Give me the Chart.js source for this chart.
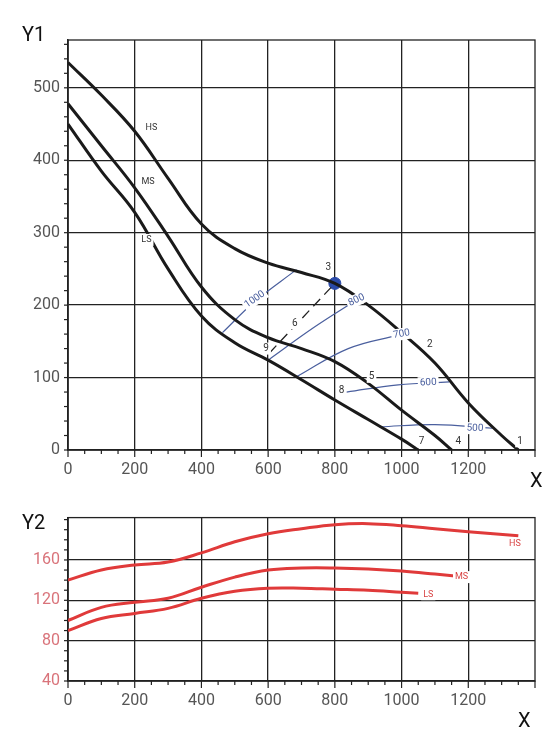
<!DOCTYPE html>
<html><head><meta charset="utf-8">
<script src="https://cdn.jsdelivr.net/npm/chart.js@4"></script>
<style>body{margin:0;background:#fff;width:551px;height:750px;position:relative;overflow:hidden;font-family:Roboto,sans-serif}
canvas{position:absolute;left:0}
.t{position:absolute;font-family:Roboto,sans-serif;color:#111}
</style></head><body>
<canvas id="c1" width="551" height="490" style="top:0"></canvas>
<canvas id="c2" width="551" height="250" style="top:500px"></canvas>
<div class="t" style="left:22px;top:22px;font-size:20px">Y1</div>
<div class="t" style="left:530px;top:468px;font-size:20px">X</div>
<div class="t" style="left:22px;top:510px;font-size:20px">Y2</div>
<div class="t" style="left:518px;top:708px;font-size:20px">X</div>
<script>
const xTicks=[0,200,400,600,800,1000,1200];
const y1Ticks=[0,100,200,300,400,500];
const y2Ticks=[40,80,120,160];
const hsTop=[[0,535],[100,490],[200,440],[300,375],[400,312],[500,278],[600,258],[700,245],[800,230],[900,200],[1000,162],[1100,120],[1200,65],[1300,20],[1350,0]];
const msTop=[[0,478],[100,420],[200,362],[300,295],[400,225],[500,180],[600,155],[700,140],[800,122],[900,92],[1000,55],[1100,20],[1150,0]];
const lsTop=[[0,450],[100,385],[200,328],[300,250],[400,185],[500,148],[600,124],[700,97],[800,69],[900,42],[1000,15],[1050,0]];
const c1000=[[463,162],[560,205],[685,249]];
const c800=[[600,124],[740,170],[865,207]];
const c700=[[685,101],[840,140],[993,159]];
const c600=[[835,80],[990,90],[1143,94]];
const c500=[[934,32],[1100,35],[1272,30]];
const dashLine=[[604,134],[800,230]];
const point3=[[800,230]];
const contourLabels=[["1000",560,208,-35],["800",865,207,-25],["700",1000,160,-10],["600",1080,93,-3],["500",1220,30,2]];
const topLabels=[["1",1355,12],["2",1085,146],["3",780,252],["4",1170,12],["5",910,101],["6",680,175],["7",1060,12],["8",820,82],["9",594,140],["HS",250,445],["MS",240,370],["LS",235,290]];
const hsBot=[[0,140],[100,150],[200,155],[300,158],[400,167],[500,178],[600,186],[700,191],[800,195],[900,196],[1000,194],[1100,191],[1200,188],[1350,184]];
const msBot=[[0,100],[100,113],[200,118],[300,122],[400,133],[500,143],[600,150],[700,152],[800,152],[900,151],[1000,149],[1100,146],[1160,144]];
const lsBot=[[0,90],[100,102],[200,107],[300,112],[400,122],[500,129],[600,132],[700,132],[800,131],[900,130],[1000,128],[1050,127]];
const botLabels=[["HS",1340,176],["MS",1180,143],["LS",1080,126]];

const pts=a=>a.map(p=>({x:p[0],y:p[1]}));
function line(d,color,w,extra){return Object.assign({data:pts(d),borderColor:color,borderWidth:w,pointRadius:0,fill:false,tension:0.4},extra||{});}
function minorTicks(ch){
  const ctx=ch.ctx,a=ch.chartArea,xs=ch.scales.x,ys=ch.scales.y;
  ctx.save();ctx.strokeStyle='#222';ctx.lineWidth=1.2;
  for(let v=0;v<=1400;v+=50){const px=xs.getPixelForValue(v);ctx.beginPath();ctx.moveTo(px,a.bottom);ctx.lineTo(px,a.bottom+(v%200?4:7));ctx.stroke();}
  const st=ch.canvas.id==='c1'?20:10;
  for(let v=ys.min;v<=ys.max;v+=st){const py=ys.getPixelForValue(v);ctx.beginPath();ctx.moveTo(a.left-4,py);ctx.lineTo(a.left,py);ctx.stroke();}
  ctx.restore();
}
const labelPlugin={id:'lbl',afterDraw(ch){
  minorTicks(ch);
  const ctx=ch.ctx,xs=ch.scales.x,ys=ch.scales.y;
  const o=ch.options.plugins.lbl;
  ctx.save();ctx.textAlign='center';ctx.textBaseline='middle';
  (o.contour||[]).forEach(([t,x,y,r])=>{const px=xs.getPixelForValue(x),py=ys.getPixelForValue(y);
    ctx.save();ctx.translate(px,py);ctx.rotate(r*Math.PI/180);ctx.font='10px Roboto';const w=ctx.measureText(t).width+4;
    ctx.fillStyle='#fff';ctx.fillRect(-w/2,-6,w,12);ctx.fillStyle='#4a5f9e';ctx.fillText(t,0,0);ctx.restore();});
  (o.text||[]).forEach(([t,x,y])=>{const px=xs.getPixelForValue(x),py=ys.getPixelForValue(y);
    ctx.font=(t.length>1?'9px':'10px')+' Roboto';const w=ctx.measureText(t).width+4;
    ctx.fillStyle='#fff';ctx.fillRect(px-w/2,py-6,w,12);ctx.fillStyle=o.color;ctx.fillText(t,px,py);});
  ctx.restore();}};
function scales(ymin,ymax,yt,ycol,xh){
  return {x:{type:'linear',min:0,max:1400,afterBuildTicks:s=>{s.ticks=xTicks.map(v=>({value:v}))},
      grid:{color:'#222',lineWidth:1.3,drawTicks:false},border:{color:'#222',width:1.5},
      ticks:{color:'#555',font:{size:16,family:'Roboto'},padding:10,callback:v=>String(v)},afterFit:s=>{s.height=xh}},
    y:{type:'linear',min:ymin,max:ymax,afterBuildTicks:s=>{s.ticks=yt.map(v=>({value:v}))},
      grid:{color:'#222',lineWidth:1.3,drawTicks:false},border:{color:'#222',width:1.5},
      ticks:{color:ycol,font:{size:16,family:'Roboto'},padding:8,callback:v=>String(v)},afterFit:s=>{s.width=68}}};
}
const borderPlugin={id:'bd',beforeDatasetsDraw(ch){const a=ch.chartArea,ctx=ch.ctx;ctx.save();ctx.strokeStyle='#222';ctx.lineWidth=1.3;ctx.strokeRect(a.left,a.top,a.right-a.left,a.bottom-a.top);ctx.restore();}};
new Chart(document.getElementById('c1'),{type:'line',
  data:{datasets:[line(hsTop,'#1a1a1a',3),line(msTop,'#1a1a1a',3),line(lsTop,'#1a1a1a',3),
    line(c1000,'#4a5f9e',1.2),line(c800,'#4a5f9e',1.2),line(c700,'#4a5f9e',1.2),line(c600,'#4a5f9e',1.2),line(c500,'#4a5f9e',1.2),
    line(dashLine,'#222',1.3,{borderDash:[10,6],tension:0}),
    {data:pts(point3),pointRadius:6,pointBackgroundColor:'#2a4aa8',pointBorderColor:'#2a4aa8',showLine:false}]},
  options:{responsive:false,animation:false,layout:{padding:{top:40,right:16,left:0}},
    plugins:{legend:{display:false},tooltip:{enabled:false},lbl:{contour:contourLabels,text:topLabels,color:'#333'}},
    scales:scales(0,566,y1Ticks,'#555',40)},plugins:[borderPlugin,labelPlugin]});
new Chart(document.getElementById('c2'),{type:'line',
  data:{datasets:[line(hsBot,'#e03a3a',3),line(msBot,'#e03a3a',3),line(lsBot,'#e03a3a',3)]},
  options:{responsive:false,animation:false,layout:{padding:{top:8,right:16,left:0}},
    plugins:{legend:{display:false},tooltip:{enabled:false},lbl:{text:botLabels,color:'#d94545'}},
    scales:scales(40,202,y2Ticks,'#d9737a',69)},plugins:[borderPlugin,labelPlugin]});
</script></body></html>
